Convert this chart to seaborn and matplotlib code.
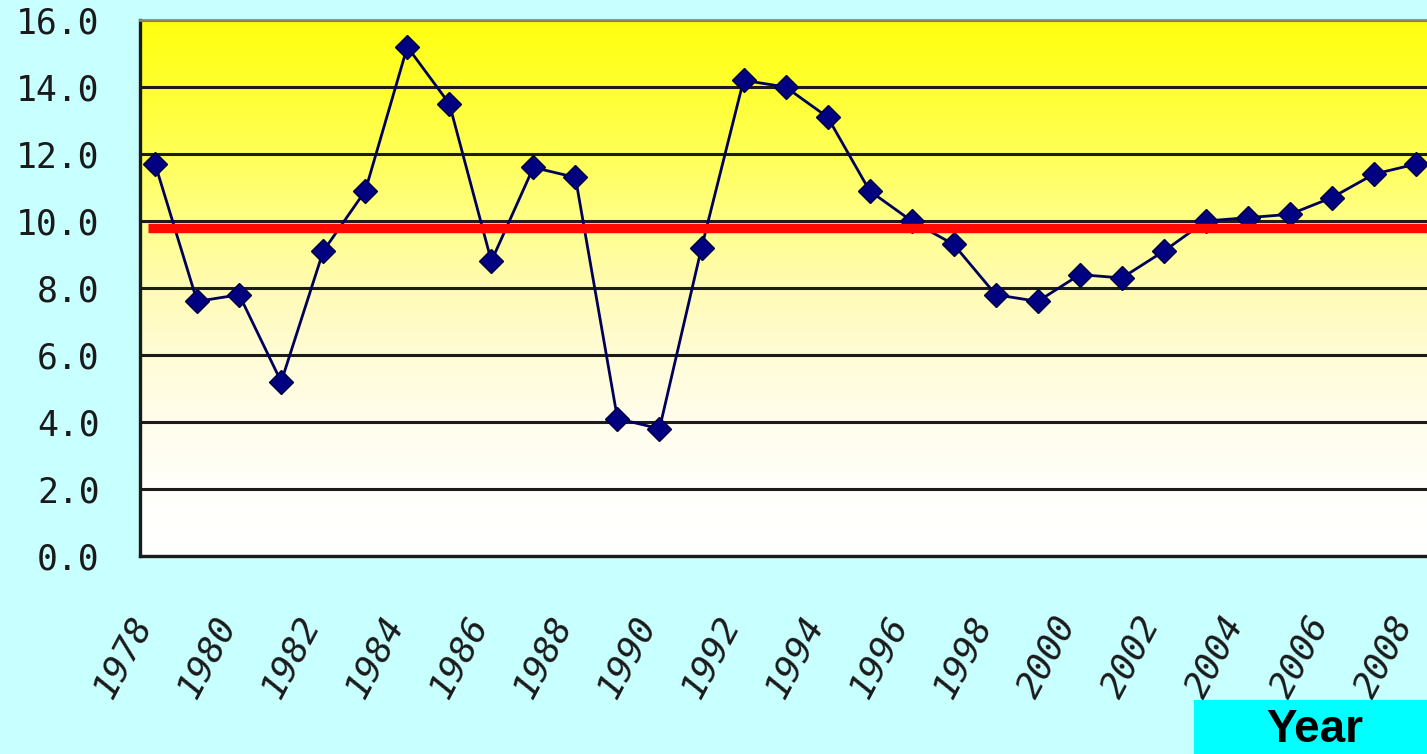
import numpy as np
import matplotlib
matplotlib.use("Agg")
import matplotlib.pyplot as plt
import matplotlib.transforms as mtransforms
from matplotlib.colors import LinearSegmentedColormap
from matplotlib.patches import Rectangle
import seaborn as sns

# Annual growth rate (%), 1978-2008
years = list(range(1978, 2009))
growth = [11.7, 7.6, 7.8, 5.2, 9.1, 10.9, 15.2, 13.5, 8.8, 11.6,
          11.3, 4.1, 3.8, 9.2, 14.2, 14.0, 13.1, 10.9, 10.0, 9.3,
          7.8, 7.6, 8.4, 8.3, 9.1, 10.0, 10.1, 10.2, 10.7, 11.4, 11.7]
average_rate = 9.8

x_label_years = years[::2]
x_tick_labels = [str(y) for y in x_label_years]
y_ticks = [0, 2, 4, 6, 8, 10, 12, 14, 16]
y_tick_labels = [f"{v:.1f}" for v in y_ticks]
axis_title = "Year"

sns.set_style("white")
plt.rcParams["font.family"] = ["DejaVu Sans Mono", "DejaVu Sans"]

W, H = 1427, 754
fig = plt.figure(figsize=(W / 100, H / 100), dpi=100, facecolor="#c8ffff")
left, right, top, bottom = 140, 1440, 20, 556
ax = fig.add_axes([left / W, 1 - bottom / H, (right - left) / W, (bottom - top) / H])

x0, x1 = 1977.64, 2008.57
ax.set_xlim(x0, x1)
ax.set_ylim(0, 16)

# yellow-to-white vertical gradient in the plot area
grad_cmap = LinearSegmentedColormap.from_list(
    "sunfade",
    [(0.00, "#ffffff"), (0.125, "#fffffa"), (0.25, "#fffdec"),
     (0.375, "#fffcd6"), (0.50, "#fffbb4"), (0.625, "#ffff88"),
     (0.75, "#ffff58"), (0.875, "#ffff30"), (1.00, "#ffff10")])
grad = np.linspace(0, 1, 256).reshape(-1, 1)
ax.imshow(grad, cmap=grad_cmap, origin="lower", aspect="auto",
          extent=[x0, x1, 0, 16], zorder=0, interpolation="bicubic")

ax.set_axisbelow(True)
ax.yaxis.grid(True, color="#1c1c1c", linewidth=2.2)
ax.xaxis.grid(False)

sns.lineplot(x=years, y=growth, ax=ax, color="#00005a", linewidth=2.0,
             marker="D", markersize=12, markerfacecolor="#000080",
             markeredgecolor="#000040", markeredgewidth=1.0, zorder=4)

ax.axhline(average_rate, xmin=0.006, xmax=1, color="#ff0a00",
           linewidth=6.8, zorder=5, solid_capstyle="butt")

# spines
ax.spines["right"].set_visible(False)
ax.spines["top"].set_color("#8a8a70")
ax.spines["top"].set_linewidth(2.0)
for side in ("left", "bottom"):
    ax.spines[side].set_color("#1a1a1a")
    ax.spines[side].set_linewidth(2.4)

# y axis
ax.set_yticks(y_ticks)
ax.set_yticklabels(y_tick_labels)
ax.tick_params(axis="y", length=0, pad=29, labelsize=25, labelcolor="#1a1a1a")
for lab in ax.get_yticklabels():
    lab.set_verticalalignment("center_baseline")

# x axis: labels at every second year, small ticks between categories
ax.set_xticks(x_label_years)
ax.set_xticklabels(x_tick_labels, rotation=62, ha="right", va="center",
                   rotation_mode="anchor", fontsize=26, style="italic",
                   color="#1a1a1a")
ax.tick_params(axis="x", which="major", length=0, pad=0)
ax.set_xticks(np.arange(1978.5, 2008.5, 1), minor=True)
ax.tick_params(axis="x", which="minor", direction="in", length=5,
               width=2, color="#1a1a1a")
shift = mtransforms.ScaledTranslation(-0.12, -0.62, fig.dpi_scale_trans)
for lab in ax.get_xticklabels():
    lab.set_transform(lab.get_transform() + shift)

ax.set_xlabel("")
ax.set_ylabel("")

# axis title box in the lower right corner
fig.patches.append(Rectangle((1194 / W, 0), (W - 1194) / W, 54 / H,
                             transform=fig.transFigure, facecolor="#00ffff",
                             edgecolor="none", zorder=1))
fig.text(1315 / W, 2 / H, axis_title, ha="center", va="bottom",
         fontsize=33, fontweight="bold", family=["Liberation Sans", "DejaVu Sans"],
         color="black", zorder=2)

fig.savefig("out.png", dpi=100, facecolor=fig.get_facecolor())
